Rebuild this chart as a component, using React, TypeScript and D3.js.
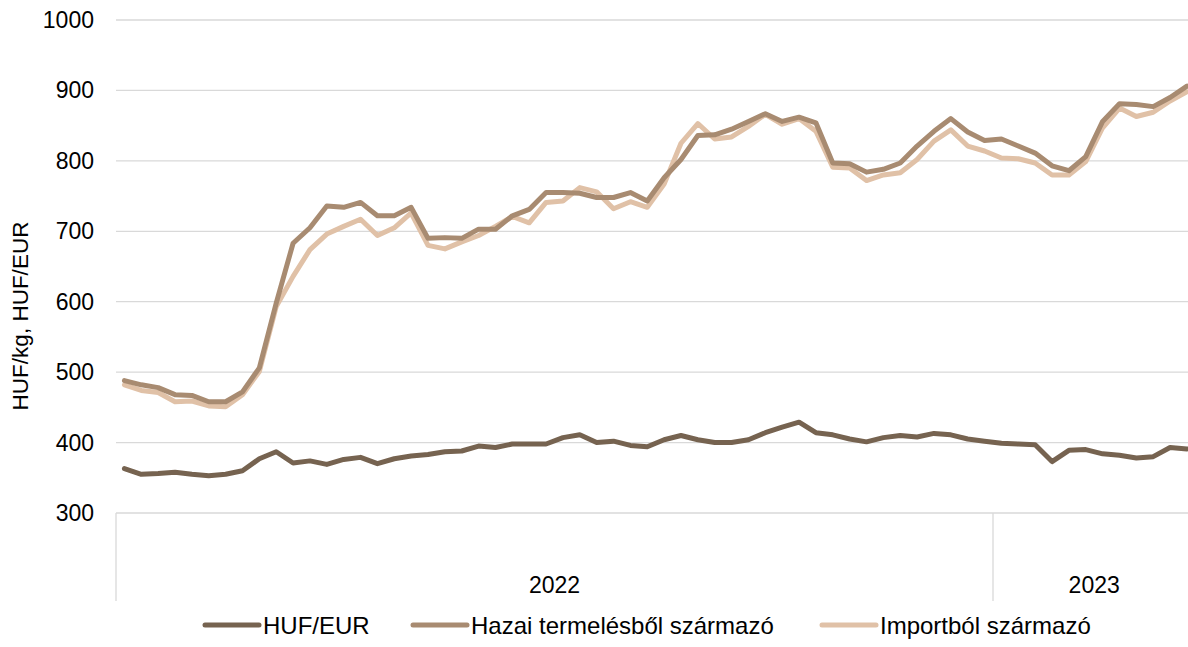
import React, { useEffect, useRef } from 'react';
import * as d3 from 'd3';

// weekly observations: 52 weeks of 2022, then 12 weeks of 2023
const years = ['2022', '2023'];
const weeksPerYear = [52, 12];

const hufEur = [
  363, 355, 356, 358, 355, 353, 355, 360, 377, 387, 371, 374, 369, 376, 379, 370,
  377, 381, 383, 387, 388, 395, 393, 398, 398, 398, 407, 411, 400, 402, 396, 394,
  404, 410, 404, 400, 400, 404, 414, 422, 429, 414, 411, 405, 401, 407, 410, 408,
  413, 411, 405, 402, 399, 398, 397, 373, 389, 390, 384, 382, 378, 380, 393, 391,
];

const hazai = [
  488, 482, 478, 468, 467, 458, 458, 472, 506, 598, 683, 705, 736, 734, 741, 722,
  722, 734, 690, 691, 690, 703, 703, 722, 731, 755, 755, 754, 748, 748, 755, 743,
  776, 802, 836, 837, 845, 856, 867, 856, 862, 854, 797, 796, 784, 788, 797, 821,
  842, 860, 841, 829, 831, 821, 811, 793, 786, 806, 856, 881, 880, 877, 890, 906,
];

const importbol = [
  482, 474, 471, 458, 459, 452, 451, 468, 501, 593, 636, 674, 696, 707, 717, 694,
  705, 726, 680, 675, 685, 694, 707, 721, 712, 741, 743, 762, 756, 732, 742, 734,
  767, 825, 853, 831, 834, 849, 866, 852, 860, 842, 791, 790, 772, 780, 783, 802,
  828, 844, 821, 814, 804, 803, 797, 780, 780, 799, 847, 875, 863, 869, 885, 898,
];

const seriesNames = ['HUF/EUR', 'Hazai termelésből származó', 'Importból származó'];
const seriesColors = ['#766350', '#a88b71', '#e0c1a7'];
const yTicks = [300, 400, 500, 600, 700, 800, 900, 1000];

const FONT = "'Liberation Sans', Arial, sans-serif";

export default function App() {
  const ref = useRef<SVGSVGElement | null>(null);

  useEffect(() => {
    const width = 1188;
    const height = 647;
    const left = 116;
    const top = 20;
    const bottom = 513;
    const totalWeeks = d3.sum(weeksPerYear);
    const step = (993 - left) / weeksPerYear[0];
    const right = left + totalWeeks * step;

    const svg = d3.select(ref.current);
    svg.selectAll('*').remove();
    svg.attr('width', width).attr('height', height);

    const x = d3.scaleBand<number>()
      .domain(d3.range(totalWeeks))
      .range([left, right]);

    const y = d3.scaleLinear()
      .domain([300, 1000])
      .range([bottom, top]);

    // horizontal gridlines
    svg.append('g')
      .selectAll('line')
      .data(yTicks)
      .join('line')
      .attr('x1', left)
      .attr('x2', right)
      .attr('y1', d => y(d))
      .attr('y2', d => y(d))
      .attr('stroke', '#d9d9d9')
      .attr('stroke-width', 1.3);

    // y tick labels
    svg.append('g')
      .selectAll('text')
      .data(yTicks)
      .join('text')
      .attr('x', 94)
      .attr('y', d => y(d))
      .attr('dy', '0.35em')
      .attr('text-anchor', 'end')
      .attr('font-family', FONT)
      .attr('font-size', 23)
      .attr('fill', '#000')
      .text(d => d);

    // y axis title
    svg.append('text')
      .attr('transform', `translate(28,316) rotate(-90)`)
      .attr('text-anchor', 'middle')
      .attr('font-family', FONT)
      .attr('font-size', 22.5)
      .attr('fill', '#000')
      .text('HUF/kg, HUF/EUR');

    // year boundaries and labels on the category axis
    const yearStarts = weeksPerYear.map((_, i) => d3.sum(weeksPerYear.slice(0, i)));
    const yearEdge = (i: number) => left + yearStarts[i] * step;
    svg.append('g')
      .selectAll('line')
      .data(years)
      .join('line')
      .attr('x1', (_, i) => yearEdge(i))
      .attr('x2', (_, i) => yearEdge(i))
      .attr('y1', bottom)
      .attr('y2', 601)
      .attr('stroke', '#d9d9d9')
      .attr('stroke-width', 1.3);

    svg.append('g')
      .selectAll('text')
      .data(years)
      .join('text')
      .attr('x', (_, i) => yearEdge(i) + (weeksPerYear[i] * step) / 2)
      .attr('y', 593)
      .attr('text-anchor', 'middle')
      .attr('font-family', FONT)
      .attr('font-size', 23)
      .attr('fill', '#000')
      .text(d => d);

    // series lines
    const line = d3.line<number>()
      .x((_, i) => (x(i) as number) + x.bandwidth() / 2)
      .y(d => y(d));

    const allSeries = [hufEur, hazai, importbol];
    // draw import first, then domestic, then HUF/EUR on top
    [2, 1, 0].forEach(k => {
      svg.append('path')
        .datum(allSeries[k])
        .attr('fill', 'none')
        .attr('stroke', seriesColors[k])
        .attr('stroke-width', 5)
        .attr('stroke-linejoin', 'round')
        .attr('stroke-linecap', 'round')
        .attr('d', line);
    });

    // legend
    const legendX = [205, 413, 822];
    const legend = svg.append('g')
      .selectAll('g')
      .data(seriesNames)
      .join('g')
      .attr('transform', (_, i) => `translate(${legendX[i]},625)`);

    legend.append('line')
      .attr('x1', 0)
      .attr('x2', 54)
      .attr('stroke', (_, i) => seriesColors[i])
      .attr('stroke-width', 5)
      .attr('stroke-linecap', 'round');

    legend.append('text')
      .attr('x', 58)
      .attr('y', 9)
      .attr('font-family', FONT)
      .attr('font-size', 24)
      .attr('fill', '#000')
      .text(d => d);
  }, []);

  return (
    <div style={{ position: 'absolute', left: 0, top: 0, width: 1188, height: 647, overflow: 'hidden', background: '#fff' }}>
      <svg ref={ref} style={{ display: 'block' }}></svg>
    </div>
  );
}
